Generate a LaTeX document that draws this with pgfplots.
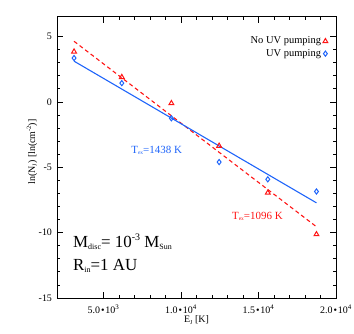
\documentclass[border=0pt]{standalone}
\usepackage{fontspec}
\setmainfont{Liberation Serif}
\usepackage{pgfplots}
\pgfplotsset{compat=1.18}
\definecolor{myred}{RGB}{255,20,20}
\definecolor{myblue}{RGB}{30,100,250}
\newcommand{\sbs}[2]{\raisebox{-0.3ex}{\fontsize{#1}{#1}\selectfont #2}}
\newcommand{\sps}[2]{\raisebox{0.9ex}{\fontsize{#1}{#1}\selectfont #2}}
\begin{document}
\begin{tikzpicture}
\useasboundingbox (-57bp,-36bp) rectangle (297bp,298bp);
\begin{axis}[
  at={(0,0)}, anchor=south west,
  scale only axis, width=279bp, height=281bp,
  xmin=2000, xmax=20000, ymin=-15, ymax=6.5,
  xtick={5000,10000,15000,20000},
  xticklabels={5.0\hspace{1bp}\textbullet\hspace{1bp}10\textsuperscript{3},1.0\hspace{1bp}\textbullet\hspace{1bp}10\textsuperscript{4},1.5\hspace{1bp}\textbullet\hspace{1bp}10\textsuperscript{4},2.0\hspace{1bp}\textbullet\hspace{1bp}10\textsuperscript{4}},
  scaled x ticks=false,
  minor x tick num=4,
  ytick={-15,-10,-5,0,5}, yticklabels={-15,-10,-5,0,5},
  minor y tick num=4,
  tick align=inside, xtick pos=both, ytick pos=both,
  major tick length=6bp, minor tick length=3bp,
  axis line style={line width=1pt},
  every tick/.style={black, line width=0.8pt},
  tick label style={font=\fontsize{10}{11}\selectfont},
  xticklabel style={yshift=-3.5bp},
  yticklabel style={xshift=-1.5bp},
  xlabel={E\sbs{6}{J} [K]},
  ylabel={ln(N\sbs{6}{J}) [ln(cm\sps{6.5}{-2})]},
  label style={font=\fontsize{10.5}{11}\selectfont},
  every axis x label/.style={at={(axis description cs:0.5,-0.078)}, anchor=center},
  every axis y label/.style={at={(axis description cs:-0.0896,0.52)}, anchor=center, rotate=90},
  legend style={draw=none, fill=none, at={(0.975,0.94)}, anchor=north east,
    font=\fontsize{10.5}{11}\selectfont, row sep=0pt, inner sep=1pt},
  legend cell align=right, legend plot pos=right,
]
\addplot[myred, only marks, mark=triangle, mark size=2.8pt, mark options={line width=1pt}]
  coordinates {(3100,3.85) (6180,1.9) (9380,-0.1) (12460,-3.36) (15600,-6.95) (18740,-10.13)};
\addlegendentry{No UV pumping}
\addplot[myblue, only marks, mark=diamond, mark size=2.6pt, mark options={line width=1pt}]
  coordinates {(3100,3.36) (6180,1.44) (9380,-1.25) (12460,-4.6) (15600,-5.92) (18740,-6.85)};
\addlegendentry{UV pumping}
\addplot[myred, line width=1.1pt, dash pattern=on 4pt off 3pt, forget plot]
  coordinates {(3100,4.64) (18740,-9.55)};
\addplot[myblue, line width=1.1pt, forget plot]
  coordinates {(3100,3.12) (18740,-7.72)};
\node[myblue, font=\fontsize{11}{12}\selectfont] at (axis cs:8430,-3.69) {T\sbs{5.5}{ex}=1438 K};
\node[myred, font=\fontsize{11}{12}\selectfont] at (axis cs:14930,-8.77) {T\sbs{5.5}{ex}=1096 K};
\node[anchor=base west, inner sep=0pt, font=\fontsize{17}{18}\selectfont] at (axis cs:3030,-11.13) {M\sbs{8}{disc}= 10\sps{10}{-3} M\sbs{8}{Sun}};
\node[anchor=base west, inner sep=0pt, font=\fontsize{17}{18}\selectfont] at (axis cs:3030,-12.87) {R\sbs{8}{in}=1 AU};
\end{axis}
\end{tikzpicture}
\end{document}
